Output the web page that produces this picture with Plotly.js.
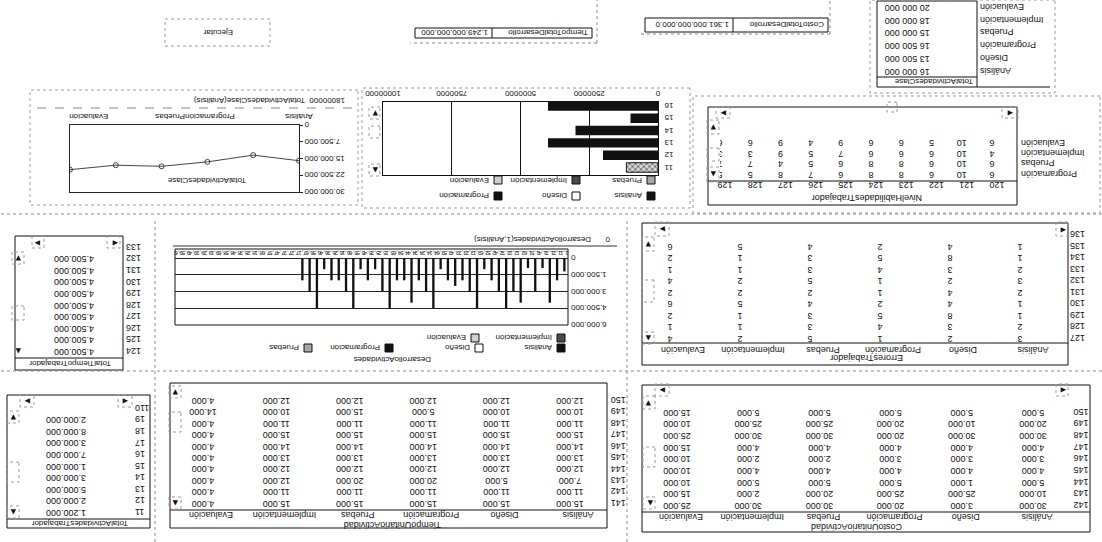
<!DOCTYPE html>
<html><head><meta charset="utf-8">
<script src="https://cdn.plot.ly/plotly-3.0.1.min.js"></script>
<style>
html,body{margin:0;padding:0;background:#fff;overflow:hidden;}
#chart{width:1102px;height:542px;transform:rotate(180deg);transform-origin:551px 271px;}
</style></head><body><div id="chart"></div>
<script>
// ================= DATA =================
const actividades = ['Análisis','Diseño','Programación','Pruebas','Implementación','Evaluación'];

// TotalActividadesClase (table)
const totalClase = [16000000, 13500000, 16500000, 15000000, 18000000, 20000000];
// TotalActividadesClase (line chart)
const lineaClase = [16000000, 13500000, 16500000, 18500000, 18000000, 20000000];
const lineaTickPos = [0, 2.27, 4.59];
const lineaTickText = ['Análisis', 'ProgramaciónPruebas', 'Evaluación'];
const lineaYTicks = [0, 7500000, 15000000, 22500000, 30000000];
const lineaYText = ['0', '7.500.000', '15.000.000', '22.500.000', '30.000.000'];

// Horizontal bars (per trabajador)
const trabBar = ['11', '12', '13', '14', '15', '16'];
const hbAnalisis = [0, 2000000, 4000000, 3000000, 1000000, 4000000];
const hbPruebas = [1150000, 0, 0, 0, 0, 0];
const hbTicks = [0, 2500000, 5000000, 7500000, 10000000];

// DesarrolloActividades (vertical bars)
const devTrab = [1, 2, 3, 4, 5, 6, 7, 8, 9];
const devAnalisis = [1200000, 4000000, 4500000, 4500000, 4500000, 3000000, 2000000, 0, 0];
const devDiseno = [2000000, 3000000, 3000000, 3000000, 3000000, 2000000, 0, 0, 0];
const devProgramacion = [4000000, 4500000, 2000000, 2000000, 1000000, 2000000, 0, 0, 0];
const devPruebas = [900000, 3000000, 2500000, 4000000, 2000000, 1000000, 0, 0, 0];
const devImplementacion = [3000000, 2000000, 2000000, 2000000, 1000000, 4500000, 0, 0, 0];
const devEvaluacion = [900000, 1000000, 1000000, 2000000, 4500000, 3000000, 0, 0, 0];
const devYTicks = [0, 1500000, 3000000, 4500000, 6000000];
const devYText = ['0', '1.500.000', '3.000.000', '4.500.000', '6.000.000'];

// NivelHabilidadesTrabajador
const nhTrab = ['120','121','122','123','124','125','126','127','128','129'];
const nhActividades = ['Programación','Pruebas','Implementación','Evaluación'];
const nhProgramacion = [6, 10, 6, 8, 8, 6, 7, 8, 5, 5];
const nhPruebas = [6, 10, 6, 8, 8, 6, 5, 4, 7, 7];
const nhImplementacion = [4, 10, 6, 6, 6, 7, 5, 9, 3, 3];
const nhEvaluacion = [6, 10, 5, 6, 6, 9, 4, 9, 6, 6];

// ErroresTrabajador
const errTrab = ['127','128','129','130','131','132','133','134','135','136'];
const errAnalisis = [3, 2, 1, 1, 2, 3, 2, 1, 1, null];
const errDiseno = [2, 3, 8, 4, 4, 2, 3, 8, 4, null];
const errProgramacion = [1, 4, 5, 2, 1, 1, 4, 5, 2, null];
const errPruebas = [5, 3, 3, 4, 2, 5, 3, 3, 4, null];
const errImplementacion = [2, 1, 1, 5, 2, 2, 1, 1, 5, null];
const errEvaluacion = [4, 1, 2, 6, 2, 4, 1, 2, 6, null];

// TotalTiempoTrabajador
const ttTrab = ['124','125','126','127','128','129','130','131','132','133'];
const ttTotal = [4500000, 4500000, 4500000, 4500000, 4500000, 4500000, 4500000, 4500000, 4500000, null];

// TiempoUnitarioActividad
const tuTrab = ['141','142','143','144','145','146','147','148','149','150'];
const tuAnalisis = [15000, 11000, 7000, 12000, 13000, 14000, 15000, 11000, 10000, 12000];
const tuDiseno = [15000, 11000, 5000, 12000, 13000, 14000, 15000, 11000, 10000, 12000];
const tuProgramacion = [15000, 11000, 20000, 12000, 13000, 14000, 15000, 11000, 5000, 12000];
const tuPruebas = [15000, 11000, 20000, 12000, 13000, 14000, 15000, 11000, 15000, 12000];
const tuImplementacion = [15000, 11000, 12000, 12000, 13000, 14000, 15000, 11000, 10000, 12000];
const tuEvaluacion = [4000, 4000, 4000, 4000, 4000, 4000, 4000, 4000, 14000, 4000];

// CostoUnitarioActividad
const cuTrab = ['142','143','144','145','146','147','148','149','150'];
const cuAnalisis = [30000, 10000, 5000, 4000, 3000, 4000, 30000, 20000, 5000];
const cuDiseno = [3000, 25000, 1000, 4000, 3000, 4000, 30000, 10000, 5000];
const cuProgramacion = [20000, 25000, 5000, 4000, 3000, 4000, 20000, 20000, 5000];
const cuPruebas = [30000, 20000, 5000, 4000, 2000, 4000, 30000, 25000, 5000];
const cuImplementacion = [30000, 2000, 5000, 4000, 2000, 4000, 30000, 25000, 5000];
const cuEvaluacion = [25000, 15000, 10000, 10000, 10000, 15000, 25000, 10000, 15000];

// TotalActividadesTrabajador
const taTrab = ['11','12','13','14','15','16','17','18','19','110'];
const taTotal = [1200000, 2000000, 5000000, 3000000, 1000000, 7000000, 3000000, 8000000, 2000000, null];

// Totales
const tiempoTotal = 1249000000000;
const costoTotal = '1.361.000.000.000.0';

// ================= HELPERS =================
const W = 1102, H = 542;
const FONT = '"Liberation Sans", Arial, "DejaVu Sans", sans-serif';
const INK = '#111';
const px = U => U / W, py = V => 1 - V / H;
const dX = (a, b) => [a / W, b / W];
const dY = (a, b) => [1 - b / H, 1 - a / H];
const fmt = n => String(n).replace(/\B(?=(\d{3})+(?!\d))/g, '.');
const shapes = [], annotations = [], traces = [];
const layout = {
  width: W, height: H, margin: {l: 0, r: 0, t: 0, b: 0},
  paper_bgcolor: '#ffffff', plot_bgcolor: 'rgba(0,0,0,0)',
  showlegend: false, barmode: 'overlay',
  font: {family: FONT, size: 9, color: INK},
  shapes, annotations
};
function txt(U, V, t, o) {
  o = o || {};
  annotations.push({xref: 'paper', yref: 'paper', x: px(U), y: py(V), text: t, showarrow: false,
    xanchor: o.xa || 'left', yanchor: 'middle',
    font: {family: o.family || FONT, size: o.size || 9, color: o.color || INK}});
}
function rect(U1, V1, U2, V2, o) {
  o = o || {};
  shapes.push({type: 'rect', xref: 'paper', yref: 'paper', x0: px(U1), x1: px(U2), y0: py(V2), y1: py(V1),
    line: {color: o.color || '#111', width: o.width || 1, dash: o.dash || 'solid'},
    fillcolor: o.fill || 'rgba(0,0,0,0)'});
}
function seg(U1, V1, U2, V2, o) {
  o = o || {};
  shapes.push({type: 'line', xref: 'paper', yref: 'paper', x0: px(U1), x1: px(U2), y0: py(V1), y1: py(V2),
    line: {color: o.color || '#111', width: o.width || 1, dash: o.dash || 'solid'}});
}
const dot = {color: '#8a8a8a', dash: 'dot'};
function arrow(U, V, ch) { txt(U, V, ch, {xa: 'center', size: 7, family: '"DejaVu Sans", sans-serif', color: '#111'}); }
function dbox(U1, V1, U2, V2) { rect(U1, V1, U2, V2, {color: '#9a9a9a', dash: 'dot'}); }

function tableAxes(n, cols, rows, dom, o) {
  o = o || {};
  layout['xaxis' + n] = {domain: dX(dom[0], dom[1]), anchor: 'y' + n, type: 'category', categoryarray: cols,
    range: o.xr || [-0.5, cols.length - 0.5], side: 'top', showgrid: false, zeroline: false, showline: false,
    tickmode: 'array', tickvals: cols, ticktext: cols,
    ticks: '', showticklabels: o.showCols !== false, tickfont: {family: FONT, size: 9, color: INK},
    ticklabelshift: o.shift || 0, ticklabelstandoff: o.xso || 0, fixedrange: true};
  layout['yaxis' + n] = {domain: dY(dom[2], dom[3]), anchor: 'x' + n, type: 'category', categoryarray: rows,
    range: [rows.length - 0.5, -0.5], showgrid: false, zeroline: false, showline: false, ticks: '',
    tickmode: 'array', tickvals: rows, ticktext: rows,
    tickfont: {family: FONT, size: 9, color: INK}, ticklabelstandoff: o.yso || 0, fixedrange: true};
}
function tableText(n, cols, rows, colArrays, f, pos) {
  const x = [], y = [], t = [];
  rows.forEach((r, i) => cols.forEach((c, j) => {
    const v = colArrays[j][i];
    if (v === null || v === undefined) return;
    x.push(c); y.push(r); t.push(f(v));
  }));
  traces.push({type: 'scatter', mode: 'text', x, y, text: t, xaxis: 'x' + n, yaxis: 'y' + n,
    textposition: pos || 'middle center', textfont: {family: FONT, size: 9, color: INK},
    hoverinfo: 'skip', cliponaxis: true, showlegend: false});
}

// ================= 1. Horizontal bar chart =================
traces.push({type: 'bar', orientation: 'h', y: trabBar, x: hbAnalisis, name: 'Análisis', xaxis: 'x', yaxis: 'y',
  width: 0.77, marker: {color: '#111', line: {width: 0}}, hoverinfo: 'skip'});
traces.push({type: 'bar', orientation: 'h', y: trabBar, x: hbPruebas, name: 'Pruebas', xaxis: 'x', yaxis: 'y',
  width: 0.77, marker: {color: '#d0d0d0', line: {color: '#111', width: 1},
  pattern: {shape: 'x', fgcolor: '#333', bgcolor: '#d8d8d8', size: 4, solidity: 0.3}}, hoverinfo: 'skip'});
layout.xaxis = {domain: dX(444, 719), anchor: 'y', range: [0, 10000000], tickvals: hbTicks, ticktext: hbTicks.map(String),
  side: 'bottom', showgrid: true, gridcolor: '#111', gridwidth: 1, showline: true, mirror: true, linecolor: '#111',
  ticks: '', zeroline: false, tickfont: {family: FONT, size: 8, color: INK}, fixedrange: true};
layout.yaxis = {domain: dY(367, 440), anchor: 'x', type: 'category', categoryarray: trabBar, range: [5.32, -0.61],
  tickmode: 'array', tickvals: trabBar, ticktext: trabBar,
  showline: true, mirror: true, linecolor: '#111', ticks: '', showgrid: false, zeroline: false,
  tickfont: {family: FONT, size: 8, color: INK}, ticklabelstandoff: 4, fixedrange: true};
// legend (Análisis, Diseño, Programación / Pruebas, Implementación, Evaluación)
const swFill = ['#111', '#fff', '#111', '#a8a8a8', '#4a4a4a', '#cfcfcf'];
function legendItem(U, V, i) {
  rect(U, V - 4, U + 8, V + 4, {fill: swFill[i], color: '#111'});
  txt(U + 11, V, actividades[i], {size: 8});
}
[[447, 346, 0], [522, 346, 1], [600, 346, 2], [447, 362, 3], [522, 362, 4], [600, 362, 5]].forEach(a => legendItem(a[0], a[1], a[2]));
arrow(727, 372, '▲'); arrow(727, 429, '▼');
dbox(722, 366, 733, 378); dbox(722, 404, 733, 416); dbox(722, 423, 733, 435);
rect(412, 334, 740, 454, {color: '#9a9a9a', dash: 'dot'});

// ================= 2. Line chart =================
traces.push({type: 'scatter', mode: 'lines+markers', x: [0, 1, 2, 3, 4, 5], y: lineaClase, xaxis: 'x2', yaxis: 'y2',
  line: {color: '#444', width: 1}, marker: {symbol: 'circle-open', size: 5, color: '#444'}, hoverinfo: 'skip'});
layout.xaxis2 = {domain: dX(803, 1032), anchor: 'y2', range: [0, 5], tickvals: lineaTickPos, ticktext: lineaTickText,
  showline: true, mirror: true, linecolor: '#222', ticks: '', showgrid: false, zeroline: false,
  tickfont: {family: FONT, size: 8, color: INK}, fixedrange: true};
layout.yaxis2 = {domain: dY(350, 417), anchor: 'x2', range: [0, 30000000], tickvals: lineaYTicks, ticktext: lineaYText,
  ticks: 'outside', ticklen: 3, tickcolor: '#222', showline: true, mirror: true, linecolor: '#222',
  showgrid: false, zeroline: false, tickfont: {family: FONT, size: 8, color: INK}, fixedrange: true};
txt(755, 441, '18000000  TotalActividadesClase(Análisis)', {size: 8});
txt(895, 362, 'TotalActividadesClase', {xa: 'center', size: 8});
seg(750, 434, 1070, 434, {color: '#888', dash: 'dash'});
rect(744, 337, 1072, 452, {color: '#9a9a9a', dash: 'dot'});

// ================= 3. DesarrolloActividades (vertical bars) =================
const devCats = [];
devTrab.forEach(t => actividades.forEach((a, k) => devCats.push(t + ',' + (k + 1))));
const devSeries = [devAnalisis, devDiseno, devProgramacion, devPruebas, devImplementacion, devEvaluacion];
devSeries.forEach((arr, k) => {
  traces.push({type: 'bar', x: devTrab.map(t => t + ',' + (k + 1)), y: arr, name: actividades[k], xaxis: 'x3', yaxis: 'y3',
    width: 0.32, marker: {color: '#111', line: {width: 0}}, hoverinfo: 'skip'});
});
layout.xaxis3 = {domain: dX(534, 927), anchor: 'y3', type: 'category', categoryarray: devCats,
  range: [-0.5, devCats.length - 0.5], tickmode: 'array', tickvals: devCats, ticktext: devCats, tickangle: 0,
  ticks: '', showgrid: false, zeroline: false, showline: false,
  tickfont: {family: FONT, size: 6, color: INK}, ticklabelstandoff: 0, fixedrange: true};
layout.yaxis3 = {domain: dY(217, 284), anchor: 'x3', range: [0, 6000000], tickvals: devYTicks, ticktext: devYText,
  showgrid: true, gridcolor: '#222', gridwidth: 1, zeroline: true, zerolinecolor: '#222', showline: false, ticks: '',
  tickfont: {family: FONT, size: 8, color: INK}, ticklabelstandoff: 2, fixedrange: true};
rect(534, 217, 927, 293, {color: '#111'});
txt(490, 302, '0', {size: 8});
txt(509, 302, 'DesarrolloActividades(1,Análisis)', {size: 8});
seg(485, 296, 929, 296, {color: '#333'});
txt(709, 182, 'DesarrolloActividades', {xa: 'center', size: 8});
[[537, 194, 0], [619, 194, 1], [709, 194, 2], [790, 194, 3], [537, 204, 4], [623, 204, 5]].forEach(a => legendItem(a[0], a[1], a[2]));

// ================= 4. TotalActividadesClase table =================
tableAxes(4, ['v'], actividades, [125, 222, 464.5, 541.5], {showCols: false, xr: [-1, 0.05], yso: 2});
tableText(4, ['v'], actividades, [totalClase], v => fmt(v).replace(/\./g, ' '), 'middle left');
rect(125, 455, 225, 541); seg(125, 465, 225, 465); seg(52, 455, 125, 455);
txt(127, 460, 'TotalActividadesClase', {size: 8});
rect(47, 449, 232, 542, {color: '#9a9a9a', dash: 'dot'});

// ================= 5. NivelHabilidadesTrabajador =================
tableAxes(5, nhTrab, nhActividades, [95, 382, 363, 404.5], {xr: [-0.5, 9.0], shift: -5, xso: 0, yso: 13});
tableText(5, nhTrab, nhActividades, nhTrab.map((c, j) => [nhProgramacion[j], nhPruebas[j], nhImplementacion[j], nhEvaluacion[j]]), String);
rect(85, 337, 394, 435); seg(85, 361, 394, 361);
txt(235, 344, 'NivelHabilidadesTrabajador', {xa: 'center'});
arrow(92, 429, '◀'); arrow(379, 429, '▶'); arrow(389, 368, '▲'); arrow(389, 415, '▼');
dbox(84, 424, 100, 435); dbox(372, 424, 386, 435); dbox(383, 360, 395, 375); dbox(383, 381, 395, 394); dbox(383, 408, 395, 422); dbox(205, 430, 215, 440);
rect(2, 329, 409, 446, {color: '#9a9a9a', dash: 'dot'});

// ================= 6. TotalTiempoTrabajador =================
tableAxes(6, ['v'], ttTrab, [979, 1077, 185.2, 300.8], {showCols: false, yso: 2});
tableText(6, ['v'], ttTrab, [ttTotal], fmt);
rect(979, 172, 1087, 306); seg(979, 184, 1087, 184);
txt(1032, 178, 'TotalTiempoTrabajador', {xa: 'center', size: 8});
arrow(987, 299, '◀'); arrow(1065, 299, '▶'); arrow(1084, 191, '▲'); arrow(1084, 284, '▼');
dbox(982, 294, 995, 306); dbox(1058, 294, 1070, 306); dbox(1078, 222, 1090, 236); dbox(1078, 278, 1090, 290);

// ================= 7. ErroresTrabajador =================
const errCols = [errAnalisis, errDiseno, errProgramacion, errPruebas, errImplementacion, errEvaluacion];
tableAxes(7, actividades, errTrab, [47, 467, 198.25, 313.25], {shift: -13, yso: 14});
tableText(7, actividades, errTrab, errCols, String);
rect(34, 177, 460, 319); seg(34, 199, 460, 199);
txt(235, 184, 'ErroresTrabajador', {xa: 'center'});
arrow(39, 312, '◀'); arrow(440, 313, '▶'); arrow(454, 204, '▲'); arrow(454, 298, '▼');
dbox(34, 306, 46, 320); dbox(433, 306, 447, 320); dbox(448, 198, 460, 210); dbox(448, 240, 460, 262); dbox(448, 291, 460, 305);

// ================= 8. TiempoUnitarioActividad =================
const tuCols = [tuAnalisis, tuDiseno, tuProgramacion, tuPruebas, tuImplementacion, tuEvaluacion];
tableAxes(8, actividades, tuTrab, [495.3, 935.7, 33.3, 147.7], {shift: -8, yso: 3});
tableText(8, actividades, tuTrab, tuCols, fmt);
rect(495, 14, 932, 159); seg(495, 32, 932, 32);
txt(709, 17, 'TiempoUnitarioActividad', {xa: 'center'});
arrow(927, 39, '▲'); arrow(927, 150, '▼');
dbox(921, 33, 933, 45); dbox(921, 110, 933, 130); dbox(921, 144, 933, 156);

// ================= 9. CostoUnitarioActividad =================
const cuCols = [cuAnalisis, cuDiseno, cuProgramacion, cuPruebas, cuImplementacion, cuEvaluacion];
tableAxes(9, actividades, cuTrab, [33.5, 460.5, 31.2, 135.8], {shift: -4, yso: 4});
tableText(9, actividades, cuTrab, cuCols, fmt);
rect(12, 10, 460, 157); seg(12, 30, 460, 30);
txt(245, 15, 'CostoUnitarioActividad', {xa: 'center'});
arrow(39, 152, '◀'); arrow(440, 152, '▶'); arrow(452, 39, '▲'); arrow(454, 139, '▼');
dbox(34, 146, 46, 158); dbox(433, 146, 447, 158); dbox(447, 33, 459, 45); dbox(447, 75, 459, 95); dbox(447, 133, 459, 146);

// ================= 10. TotalActividadesTrabajador =================
tableAxes(10, ['v'], taTrab, [972, 1100, 24.25, 139.75], {showCols: false, yso: 4});
tableText(10, ['v'], taTrab, [taTotal], fmt);
rect(952, 14, 1095, 147); seg(952, 23, 1095, 23);
txt(1022, 19, 'TotalActividadesTrabajador', {xa: 'center', size: 8});
arrow(977, 141, '◀'); arrow(1075, 141, '▶'); arrow(1089, 30, '▲'); arrow(1089, 125, '▼');
dbox(970, 135, 984, 147); dbox(1068, 135, 1082, 147); dbox(1083, 24, 1095, 36); dbox(1083, 60, 1095, 80); dbox(1083, 119, 1095, 131);

// ================= Totals / button =================
rect(510, 504, 687, 514); seg(610, 504, 610, 514);
txt(512, 509, 'TiempoTotalDesarrollo', {size: 8});
txt(612, 509, fmt(tiempoTotal), {size: 8});
seg(505, 499, 692, 499, dot); seg(505, 499, 505, 542, dot);
rect(274, 510, 457, 524); seg(369, 510, 369, 524);
txt(276, 517, 'CostoTotalDesarrollo', {size: 8});
txt(371, 517, costoTotal, {size: 8});
seg(272, 508, 462, 508, dot); seg(272, 508, 272, 542, dot);
rect(832, 496, 937, 523, {color: '#9a9a9a', dash: 'dot'});
txt(884, 509, 'Ejecutar', {xa: 'center', size: 8});

// ================= separators =================
seg(0, 171, 1102, 171, dot);
seg(0, 328, 1102, 328, dot);
seg(947, 0, 947, 322, dot);
seg(475, 0, 475, 322, dot);

Plotly.newPlot('chart', traces, layout, {staticPlot: true, displayModeBar: false});
</script>
</body></html>
